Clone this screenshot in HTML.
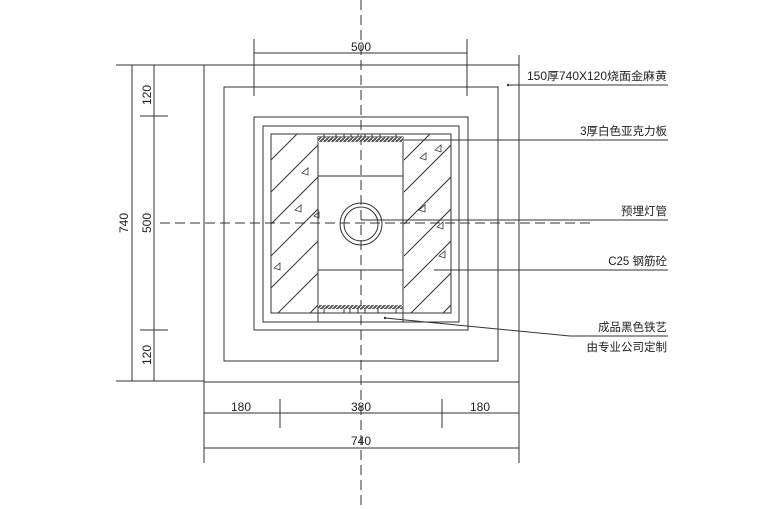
<!DOCTYPE html>
<html><head><meta charset="utf-8"><style>
html,body{margin:0;padding:0;background:#fff;}
svg{display:block;}
text{font-family:"Liberation Sans","Noto Sans CJK SC",sans-serif;fill:#222;}
</style></head><body>
<svg width="780" height="509" viewBox="0 0 780 509" xmlns="http://www.w3.org/2000/svg">
<defs>
<clipPath id="cl"><rect x="271" y="134" width="47" height="179"/></clipPath>
<clipPath id="cr"><rect x="404" y="134" width="47" height="179"/></clipPath>
<pattern id="hp" patternUnits="userSpaceOnUse" width="4" height="4"><rect width="4" height="4" fill="#555"/><path d="M0,4 L4,0" stroke="#fff" stroke-width="1"/></pattern>
</defs>
<g stroke="#333" stroke-width="1" fill="none">
<line x1="361" y1="0" x2="361" y2="509" stroke-dasharray="10,5"/>
<line x1="160" y1="223" x2="590" y2="223" stroke-dasharray="10,5"/>
<rect x="204" y="65" width="315" height="317"/>
<rect x="224" y="87" width="274" height="274"/>
<rect x="254" y="117" width="214" height="213"/>
<rect x="263" y="126" width="196" height="196"/>
<rect x="271" y="134" width="180" height="179"/>
<rect x="318" y="137" width="85" height="185"/>
<line x1="318" y1="176" x2="403" y2="176"/>
<line x1="318" y1="270" x2="403" y2="270"/>
<circle cx="361" cy="224" r="21"/>
<circle cx="361" cy="224" r="17"/>
<g clip-path="url(#cl)">
<path d="M271,160 L320,111 M271,192 L320,143 M271,224 L320,175 M271,256 L320,207 M271,288 L320,239 M271,320 L320,271 M271,352 L320,303"/>
</g>
<g clip-path="url(#cr)">
<path d="M404,160 L453,111 M404,192 L453,143 M404,224 L453,175 M404,256 L453,207 M404,288 L453,239 M404,320 L453,271 M404,352 L453,303"/>
</g>
<rect x="318" y="137" width="85" height="5" fill="url(#hp)" stroke="none"/>
<rect x="318" y="305" width="85" height="4" fill="url(#hp)" stroke="none"/>
<path d="M324,134v3M336,134v3M344,134v3M351,134v3M358,134v3M365,134v3M372,134v3M380,134v3M396,134v3"/>
<path d="M324,309v4M344,309v4M350,309v4M358,309v4M365,309v4M378,309v4M396,309v4"/>
<path d="M302,173l6,-5l0,7z M295,210l6,-5l0,7z M420,158l6,-5l0,7z M435,150l6,-5l0,7z M419,210l6,-5l0,7z M437,227l6,-5l0,7z M439,256l6,-5l0,7z M274,268l6,-5l0,7z M314,216l5,-4l0,6z" stroke-width="0.8"/>
<line x1="254" y1="53" x2="467" y2="53"/>
<line x1="254" y1="39" x2="254" y2="96"/>
<line x1="467" y1="39" x2="467" y2="96"/>
<line x1="116" y1="65" x2="204" y2="65"/>
<line x1="116" y1="381" x2="204" y2="381"/>
<line x1="132" y1="65" x2="132" y2="381"/>
<line x1="154" y1="65" x2="154" y2="381"/>
<line x1="140" y1="116" x2="168" y2="116"/>
<line x1="140" y1="330" x2="168" y2="330"/>
<line x1="204" y1="382" x2="204" y2="463"/>
<line x1="519" y1="55" x2="519" y2="463"/>
<line x1="204" y1="413" x2="519" y2="413"/>
<line x1="204" y1="448" x2="519" y2="448"/>
<line x1="280" y1="399" x2="280" y2="428"/>
<line x1="442" y1="399" x2="442" y2="428"/>
<line x1="508" y1="85" x2="668" y2="85"/>
<line x1="404" y1="140" x2="668" y2="140"/>
<line x1="361" y1="220" x2="668" y2="220"/>
<line x1="434" y1="270" x2="668" y2="270"/>
<polyline points="385,318 570,336 668,336"/>
</g>
<circle cx="508" cy="85" r="1.2" fill="#333"/>
<circle cx="385" cy="318" r="1.2" fill="#333"/>
<g font-size="12" text-anchor="middle">
<text x="361" y="51">500</text>
<text x="241" y="411">180</text>
<text x="361" y="411">380</text>
<text x="480" y="411">180</text>
<text x="361" y="445">740</text>
<text transform="translate(128,223) rotate(-90)">740</text>
<text transform="translate(151,95) rotate(-90)">120</text>
<text transform="translate(151,223) rotate(-90)">500</text>
<text transform="translate(151,355) rotate(-90)">120</text>
</g>
<g font-size="11.5" text-anchor="end">
<text x="667" y="80" textLength="140" lengthAdjust="spacingAndGlyphs">150厚740X120烧面金麻黄</text>
<text x="667" y="135">3厚白色亚克力板</text>
<text x="667" y="215">预埋灯管</text>
<text x="667" y="265">C25 钢筋砼</text>
<text x="667" y="331">成品黑色铁艺</text>
<text x="667" y="351">由专业公司定制</text>
</g>
</svg>
</body></html>
